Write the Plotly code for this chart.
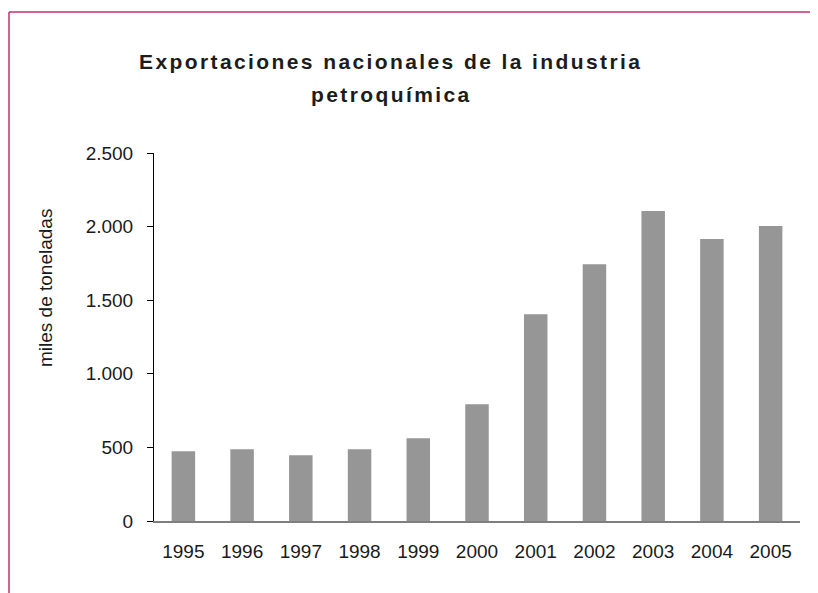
import plotly.graph_objects as go

years = ["1995", "1996", "1997", "1998", "1999", "2000", "2001", "2002", "2003", "2004", "2005"]
exports = [474, 487, 447, 487, 562, 793, 1405, 1745, 2106, 1915, 2004]
y_ticks = [0, 500, 1000, 1500, 2000, 2500]
y_tick_labels = ["0", "500", "1.000", "1.500", "2.000", "2.500"]

# page body has an 8px margin, so the figure is 8px smaller than the window
OFF = 8
W, H = 818 - OFF, 593 - OFF
L, R, T, B = 154 - OFF, 18, 153 - OFF, 72
pw, ph = W - L - R, H - T - B

def px(x):
    return (x - OFF - L) / pw

def py(y):
    return (H - B - (y - OFF)) / ph

fig = go.Figure(go.Bar(x=years, y=exports, marker=dict(color="#969696", line=dict(width=0)), width=0.4))

border = "#c4306c"
fig.add_shape(type="line", xref="paper", yref="paper", x0=px(9), x1=px(830), y0=py(12), y1=py(12),
              line=dict(color=border, width=1.5))
fig.add_shape(type="line", xref="paper", yref="paper", x0=px(9), x1=px(9), y0=py(12), y1=py(600),
              line=dict(color=border, width=1.5))

title_font = dict(family="Liberation Sans, Arial, sans-serif", size=21, color="#1c1c1c", weight="bold")
fig.add_annotation(
    text='<span style="letter-spacing:2.4px">Exportaciones nacionales de la industria</span>',
    xref="paper", yref="paper", x=px(390), y=py(70), xanchor="center", yanchor="bottom",
    showarrow=False, font=title_font, yshift=-5,
)
fig.add_annotation(
    text='<span style="letter-spacing:2.4px">petroquímica</span>',
    xref="paper", yref="paper", x=px(391), y=py(103), xanchor="center", yanchor="bottom",
    showarrow=False, font=title_font, yshift=-5,
)
fig.add_annotation(
    text="miles de toneladas", textangle=-90,
    xref="paper", yref="paper", x=px(45), y=py(288), xanchor="center", yanchor="middle",
    showarrow=False, font=dict(size=19, color="#1a1a1a"),
)

fig.update_layout(
    width=W, height=H,
    margin=dict(l=L, r=R, t=T, b=B),
    paper_bgcolor="white", plot_bgcolor="white",
    font=dict(family="Liberation Sans, Arial, sans-serif", size=19, color="#1a1a1a"),
    showlegend=False,
    bargap=0.6,
)
fig.update_xaxes(
    type="category", showline=True, linecolor="#7f7f7f", linewidth=2,
    ticks="", showgrid=False, ticklabelstandoff=12,
)
fig.update_yaxes(
    range=[0, 2500], tickvals=y_ticks, ticktext=y_tick_labels,
    showline=True, linecolor="black", linewidth=1,
    ticks="outside", ticklen=6, tickcolor="black", showgrid=False, zeroline=False,
    ticklabelstandoff=10,
)

fig.write_html("out.html")
